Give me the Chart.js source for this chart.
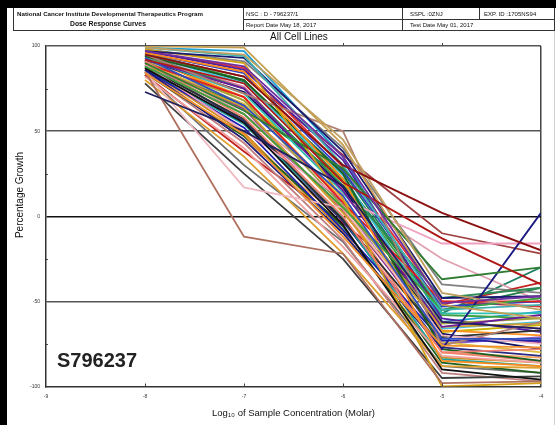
<!DOCTYPE html>
<html>
<head>
<meta charset="utf-8">
<script src="https://cdn.jsdelivr.net/npm/chart.js@4.4.1/dist/chart.umd.min.js"></script>
<style>
html,body{margin:0;padding:0;background:#fff;}
#wrap{position:relative;width:556px;height:425px;overflow:hidden;font-family:Arial,"Liberation Sans",sans-serif;color:#111;}
#chart{position:absolute;left:0;top:0;}
.blk{position:absolute;background:#000;}
.ln{position:absolute;background:#333;}
.t{position:absolute;white-space:nowrap;line-height:1;}
</style>
</head>
<body>
<div id="wrap">
<canvas id="chart" width="556" height="425"></canvas>
<div class="blk" style="left:0;top:0;width:556px;height:8px;"></div>
<div class="blk" style="left:0;top:0;width:7px;height:425px;"></div>
<!-- header table lines -->
<div class="ln" style="left:13px;top:8px;width:1px;height:23px;"></div>
<div class="ln" style="left:13px;top:30px;width:542px;height:1px;"></div>
<div class="ln" style="left:243px;top:8px;width:1px;height:23px;"></div>
<div class="ln" style="left:402px;top:8px;width:1px;height:23px;"></div>
<div class="ln" style="left:479px;top:8px;width:1px;height:12px;"></div>
<div class="ln" style="left:243px;top:19px;width:312px;height:1px;"></div>
<div class="ln" style="left:554px;top:8px;width:1px;height:23px;"></div>
<div style="position:absolute;left:554px;top:31px;width:1px;height:394px;background:#d0d0d0;"></div>
<div class="t" style="left:17px;top:11px;font-size:6.2px;font-weight:bold;">National Cancer Institute Developmental Therapeutics Program</div>
<div class="t" style="left:70px;top:21px;font-size:6.8px;font-weight:bold;">Dose Response Curves</div>
<div class="t" style="left:246px;top:11px;font-size:6px;">NSC : D - 796237/1</div>
<div class="t" style="left:246px;top:22px;font-size:6px;">Report Date May 18, 2017</div>
<div class="t" style="left:410px;top:11px;font-size:6px;">SSPL :0ZNJ</div>
<div class="t" style="left:484px;top:11px;font-size:6px;">EXP. ID :1705NS94</div>
<div class="t" style="left:410px;top:22px;font-size:6px;">Test Date May 01, 2017</div>
<div class="t" style="left:270px;top:32px;font-size:10px;width:56px;text-align:center;">All Cell Lines</div>
<div class="t" style="left:-24px;top:190px;width:88px;text-align:center;font-size:10px;transform:rotate(-90deg);">Percentage Growth</div>
<div class="t" style="left:57px;top:350px;font-size:20px;font-weight:bold;color:#222;">S796237</div>
</div>
<script>
// log10 molar concentrations tested
const logConc = [-8, -7, -6, -5, -4];
const xTickValues = [-9, -8, -7, -6, -5, -4];
const yTickValues = [100, 50, 0, -50, -100];
const xTickMarks = [-8, -7, -6, -5];
const yMinorMarks = [75, 25, -25, -75];

// percentage growth per cell line, grouped by panel
const leukemia = [
  [97, 88, 35, -51, -47],
  [95, 82, 30, 2, -20],
  [92, 78, 20, -13, -40],
  [99, 95, 45, -45, -55],
  [84, 48, -12, -76, -77],
  [90, 62, 28, -37, -30]
];
const nsclc = [
  [100, 99, 42, -52, -60],
  [99, 94, 30, -55, -52],
  [97, 93, 38, -48, -47],
  [73, 50, 18, -62, -66],
  [93, 65, 12, -72, -72],
  [88, 60, 5, -55, -48],
  [91, 58, 0, -80, -78],
  [87, 55, -5, -90, -96],
  [86, 45, -10, -78, 2]
];
const colon = [
  [85, -12, -22, -98, -97],
  [85, 17, 5, -70, -75],
  [95, 72, 50, -76, -62],
  [98, 90, 10, -100, -98],
  [96, 85, 22, -85, -88],
  [94, 80, 25, -78, -85],
  [92, 75, 15, -65, -58]
];
const cns = [
  [90, 70, 8, -50, -50],
  [89, 50, 10, -16, -16],
  [94, 75, 18, -48, -42],
  [96, 84, 27, -53, -50],
  [93, 72, 14, -57, -57],
  [91, 68, 6, -63, -60]
];
const melanoma = [
  [89, 64, 2, -65, -63],
  [88, 57, -2, -71, -67],
  [86, 52, -8, -73, -73],
  [82, 40, -18, -82, -86],
  [80, 35, -22, -88, -89],
  [78, 25, -25, -95, -94],
  [97, 86, 33, -60, -68],
  [95, 78, 24, -66, -62],
  [92, 73, 17, -69, -78]
];
const ovarian = [
  [90, 66, 11, -74, -80],
  [88, 60, 4, -80, -85],
  [86, 54, -1, -84, -88],
  [84, 47, -6, -86, -92],
  [98, 91, 40, -40, -45],
  [97, 87, 29, -50, -53],
  [96, 80, 21, -58, -60]
];
const renal = [
  [94, 76, 16, -62, -66],
  [93, 70, 9, -67, -70],
  [91, 63, 3, -70, -74],
  [89, 56, -3, -77, -82],
  [87, 49, -9, -83, -86],
  [85, 43, -14, -92, -97],
  [83, 38, -4, -52, -39],
  [90, 65, 22, -55, -42]
];
const prostate = [
  [92, 60, 13, -25, -50],
  [95, 82, 36, -10, -22]
];
const breast = [
  [99, 97, 35, -62, -56],
  [94, 68, 20, -68, -64],
  [91, 55, 8, -75, -71],
  [87, 45, -2, -80, -83],
  [83, 30, -15, -88, -92],
  [96, 79, 26, -57, -30]
];

// line colours, in the same order as the panels above
const leukemiaColors = ['#7030a0', '#8b1010', '#b01818', '#c0a060', '#f09030', '#2e7d32'];
const nsclcColors = ['#c8a050', '#40b0b0', '#1a1a70', '#202060', '#3050c0', '#40a040', '#f08070', '#111111', '#1a1a80'];
const colonColors = ['#b07060', '#f0b8c0', '#b08070', '#d4a017', '#ff8c1a', '#1b5e20', '#6a1b9a'];
const cnsColors = ['#e02020', '#f0a0c0', '#2e8b57', '#3040c0', '#30c0b0', '#a0a040'];
const melanomaColors = ['#d0a030', '#303030', '#2020b0', '#f0a0a0', '#e0a030', '#404040', '#5020a0', '#40c0e0', '#101060'];
const ovarianColors = ['#e0c040', '#f08070', '#20a0a0', '#206020', '#808080', '#e03030', '#40a040'];
const renalColors = ['#e070a0', '#ff9020', '#803090', '#2a2a80', '#d09020', '#c08080', '#c02020', '#208040'];
const prostateColors = ['#e0a0b0', '#a04040'];
const breastColors = ['#20a0d0', '#c8b400', '#9060c0', '#f4a460', '#707070', '#208060'];

const panels = [
  [leukemia, leukemiaColors], [nsclc, nsclcColors], [colon, colonColors],
  [cns, cnsColors], [melanoma, melanomaColors], [ovarian, ovarianColors],
  [renal, renalColors], [prostate, prostateColors], [breast, breastColors]
];

const datasets = [];
panels.forEach(([rows, colors]) => {
  rows.forEach((vals, i) => {
    datasets.push({
      data: vals.map((v, k) => ({x: logConc[k], y: v})),
      borderColor: colors[i],
      borderWidth: 1.8,
      pointRadius: 0,
      tension: 0,
      fill: false
    });
  });
});

const tickMarks = {
  id: 'tickMarks',
  afterDraw(chart) {
    const {ctx, chartArea: a, scales: {x, y}} = chart;
    ctx.save();
    ctx.strokeStyle = '#444';
    ctx.lineWidth = 1;
    ctx.beginPath();
    xTickMarks.forEach(v => {
      const px = Math.round(x.getPixelForValue(v)) + 0.5;
      ctx.moveTo(px, a.top - 3); ctx.lineTo(px, a.top);
      ctx.moveTo(px, a.bottom - 3); ctx.lineTo(px, a.bottom);
    });
    yMinorMarks.forEach(v => {
      const py = Math.round(y.getPixelForValue(v)) + 0.5;
      ctx.moveTo(a.left, py); ctx.lineTo(a.left + 2, py);
    });
    ctx.stroke();
    ctx.restore();
  }
};

new Chart(document.getElementById('chart'), {
  type: 'line',
  data: {datasets},
  plugins: [tickMarks],
  options: {
    responsive: false,
    animation: false,
    layout: {padding: {left: 9, right: 15, top: 46, bottom: 4}},
    plugins: {legend: {display: false}, tooltip: {enabled: false}, title: {display: false}},
    scales: {
      x: {
        type: 'linear',
        min: -9, max: -4,
        afterBuildTicks: s => { s.ticks = xTickValues.map(v => ({value: v})); },
        afterFit: s => { s.height = 34.5; },
        ticks: {font: {size: 5, family: 'Arial'}, color: '#333', padding: 7, callback: v => String(v), maxRotation: 0},
        grid: {
          drawTicks: false,
          color: c => c.tick && c.tick.value === -4 ? '#444' : 'rgba(0,0,0,0)',
          lineWidth: 1.5
        },
        border: {display: true, color: '#333', width: 1.5},
        title: {display: true, text: 'Log\u2081\u2080 of Sample Concentration (Molar)', font: {size: 9.5, family: 'Arial'}, color: '#111', padding: {top: 0, bottom: 2.3}}
      },
      y: {
        type: 'linear',
        min: -100, max: 100,
        afterBuildTicks: s => { s.ticks = yTickValues.map(v => ({value: v})); },
        afterFit: s => { s.width = 37; },
        ticks: {font: {size: 5, family: 'Arial'}, color: '#333', padding: 6, callback: v => String(v)},
        grid: {
          drawTicks: false,
          color: c => {
            const v = c.tick ? c.tick.value : null;
            if (v === 0) return '#111';
            if (v === 50 || v === -50 || v === 100) return '#555';
            return 'rgba(0,0,0,0)';
          },
          lineWidth: 1.5
        },
        border: {display: true, color: '#333', width: 1.5},
        title: {display: false}
      }
    }
  }
});
</script>
</body>
</html>
